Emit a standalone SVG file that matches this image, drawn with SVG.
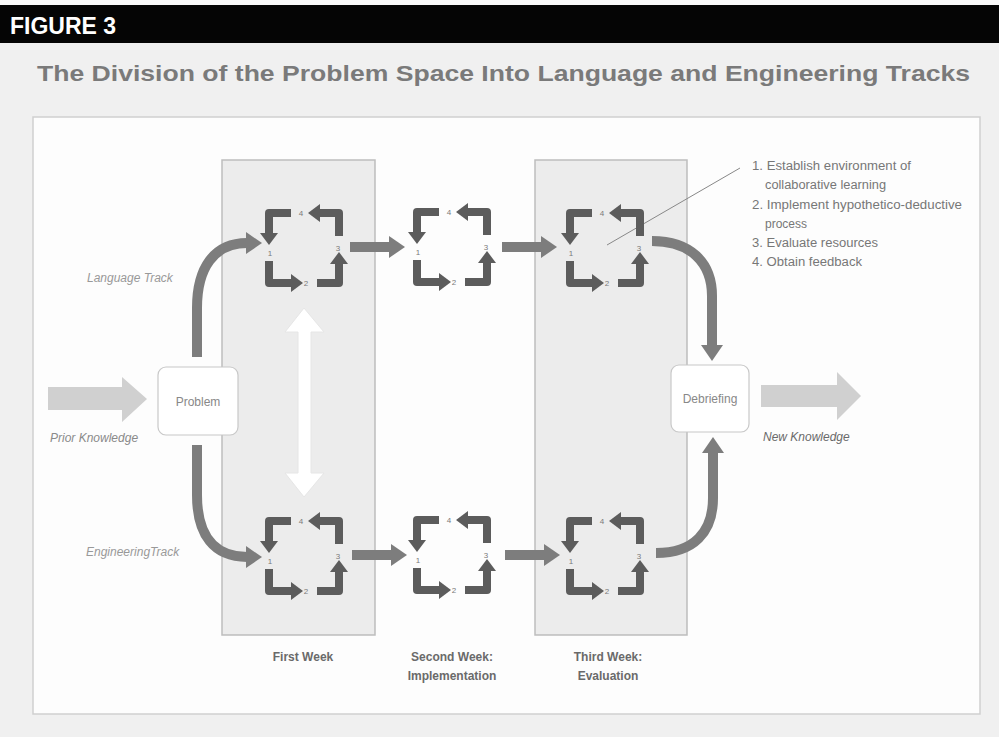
<svg xmlns="http://www.w3.org/2000/svg" width="999" height="737" viewBox="0 0 999 737">
<style>
.cyc{fill:none;stroke:#5c5c5c;stroke-width:8;stroke-linejoin:round}
.cyh{fill:#5c5c5c}
.num{font-family:"Liberation Sans",Arial,sans-serif;font-size:8px;fill:#7a7a7a;text-anchor:middle}
.con{fill:none;stroke:#7d7d7d;stroke-width:10}
.box{fill:#fff;stroke:#c8c8c8;stroke-width:1.2}
.boxt{font-family:"Liberation Sans",Arial,sans-serif;font-size:12px;fill:#888;text-anchor:middle}
.ital{font-family:"Liberation Sans",Arial,sans-serif;font-size:12px;font-style:italic;fill:#999}
.col{fill:#ececec;stroke:#bdbdbd;stroke-width:1.5}
.wk{font-family:"Liberation Sans",Arial,sans-serif;font-size:12px;font-weight:bold;fill:#6a6a6a;text-anchor:middle}
.ann{font-family:"Liberation Sans",Arial,sans-serif;font-size:12px;fill:#777}
</style>
<defs>
<marker id="bigHead" markerUnits="userSpaceOnUse" viewBox="0 0 16 22" refX="1" refY="11" markerWidth="16" markerHeight="22" orient="auto">
<path d="M0,0 L16,11 L0,22 z" fill="#7d7d7d"/>
</marker>
<g id="cycle">
<path class="cyc" d="M-13,-35 H-35 V-14"/>
<polygon class="cyh" points="-44,-15 -26,-15 -35,-3"/>
<path class="cyc" d="M-35,13 V35 H-12"/>
<polygon class="cyh" points="-13,26 -13,44 -1,35"/>
<path class="cyc" d="M13,35 H35 V15"/>
<polygon class="cyh" points="26,16 44,16 35,4"/>
<path class="cyc" d="M35,-12 V-35 H15"/>
<polygon class="cyh" points="16,-44 16,-26 4,-35"/>
</g>
</defs>

<!-- page -->
<rect x="0" y="0" width="999" height="737" fill="#f0f0f0"/>
<rect x="0" y="0" width="999" height="5" fill="#fafafa"/>
<rect x="0" y="5" width="999" height="38" fill="#050505"/>
<text x="10" y="34" font-family="Liberation Sans,Arial,sans-serif" font-size="23" font-weight="bold" fill="#fff">FIGURE 3</text>
<text x="37" y="81" font-family="Liberation Sans,Arial,sans-serif" font-size="22" font-weight="bold" fill="#7a7a7a" textLength="933" lengthAdjust="spacingAndGlyphs">The Division of the Problem Space Into Language and Engineering Tracks</text>
<rect x="33" y="117" width="947" height="597" fill="#fdfdfd" stroke="#cfcfcf" stroke-width="1.5"/>

<!-- week columns -->
<rect class="col" x="222" y="160" width="153" height="475"/>
<rect class="col" x="535" y="160" width="152" height="475"/>
<text class="wk" x="303" y="661">First Week</text>
<text class="wk" x="452" y="661">Second Week:</text>
<text class="wk" x="452" y="680">Implementation</text>
<text class="wk" x="608" y="661">Third Week:</text>
<text class="wk" x="608" y="680">Evaluation</text>

<!-- knowledge arrows and labels -->
<polygon points="48,387 122,387 122,377 147,399 122,422 122,410 48,410" fill="#d0d0d0"/>
<text class="ital" x="50" y="442" style="fill:#8a8a8a">Prior Knowledge</text>
<polygon points="761,385 837,385 837,372 861,396 837,420 837,407 761,407" fill="#d0d0d0"/>
<text class="ital" x="763" y="441" style="fill:#6a6a6a">New Knowledge</text>
<text class="ital" x="87" y="282">Language Track</text>
<text class="ital" x="86" y="556">EngineeringTrack</text>

<!-- white double arrow -->
<polygon points="304,308 324,332 311,332 311,473 324,473 304,497 285,473 298,473 298,332 285,332" fill="#ffffff" stroke="#e6e6e6" stroke-width="1"/>

<!-- connectors -->
<g id="connectors">
<path class="con" marker-end="url(#bigHead)" d="M197,357 V308 C197,268 214,243 247,243"/>
<path class="con" marker-end="url(#bigHead)" d="M197,445 V495 C197,535 214,557 247,557"/>
<path class="con" marker-end="url(#bigHead)" d="M350,247 H390"/>
<path class="con" marker-end="url(#bigHead)" d="M502,247 H542"/>
<path class="con" marker-end="url(#bigHead)" d="M352,555 H392"/>
<path class="con" marker-end="url(#bigHead)" d="M505,555 H545"/>
<path class="con" marker-end="url(#bigHead)" d="M652,241 C690,241 712,262 712,296 V346"/>
<path class="con" marker-end="url(#bigHead)" d="M656,553 C694,553 713,532 713,498 V452"/>
<line x1="607" y1="245" x2="740" y2="168" stroke="#888" stroke-width="1"/>
</g>

<!-- nodes -->
<g id="problem">
<rect class="box" x="158" y="367" width="80" height="68" rx="8"/>
<text class="boxt" x="198" y="406">Problem</text>
</g>
<g id="debriefing">
<rect class="box" x="671" y="365" width="78" height="67" rx="8"/>
<text class="boxt" x="710" y="403">Debriefing</text>
</g>

<g id="lang1"><use href="#cycle" x="304" y="248"/>
<text class="num" x="301" y="216">4</text><text class="num" x="338" y="251">3</text><text class="num" x="306" y="286">2</text><text class="num" x="270" y="256">1</text></g>
<g id="lang2"><use href="#cycle" x="452" y="247"/>
<text class="num" x="449" y="215">4</text><text class="num" x="486" y="250">3</text><text class="num" x="454" y="285">2</text><text class="num" x="418" y="255">1</text></g>
<g id="lang3"><use href="#cycle" x="605" y="248"/>
<text class="num" x="602" y="216">4</text><text class="num" x="639" y="251">3</text><text class="num" x="607" y="286">2</text><text class="num" x="571" y="256">1</text></g>
<g id="eng1"><use href="#cycle" x="304" y="556"/>
<text class="num" x="301" y="524">4</text><text class="num" x="338" y="559">3</text><text class="num" x="306" y="594">2</text><text class="num" x="270" y="564">1</text></g>
<g id="eng2"><use href="#cycle" x="452" y="555"/>
<text class="num" x="449" y="523">4</text><text class="num" x="486" y="558">3</text><text class="num" x="454" y="593">2</text><text class="num" x="418" y="563">1</text></g>
<g id="eng3"><use href="#cycle" x="605" y="556"/>
<text class="num" x="602" y="524">4</text><text class="num" x="639" y="559">3</text><text class="num" x="607" y="594">2</text><text class="num" x="571" y="564">1</text></g>

<g id="legend">
<text class="ann" x="752" y="170" textLength="159" lengthAdjust="spacingAndGlyphs">1. Establish environment of</text>
<text class="ann" x="765" y="189" textLength="121" lengthAdjust="spacingAndGlyphs">collaborative learning</text>
<text class="ann" x="752" y="209" textLength="210" lengthAdjust="spacingAndGlyphs">2. Implement hypothetico-deductive</text>
<text class="ann" x="765" y="228">process</text>
<text class="ann" x="752" y="247" textLength="126" lengthAdjust="spacingAndGlyphs">3. Evaluate resources</text>
<text class="ann" x="752" y="266" textLength="110" lengthAdjust="spacingAndGlyphs">4. Obtain feedback</text>
</g>
</svg>
